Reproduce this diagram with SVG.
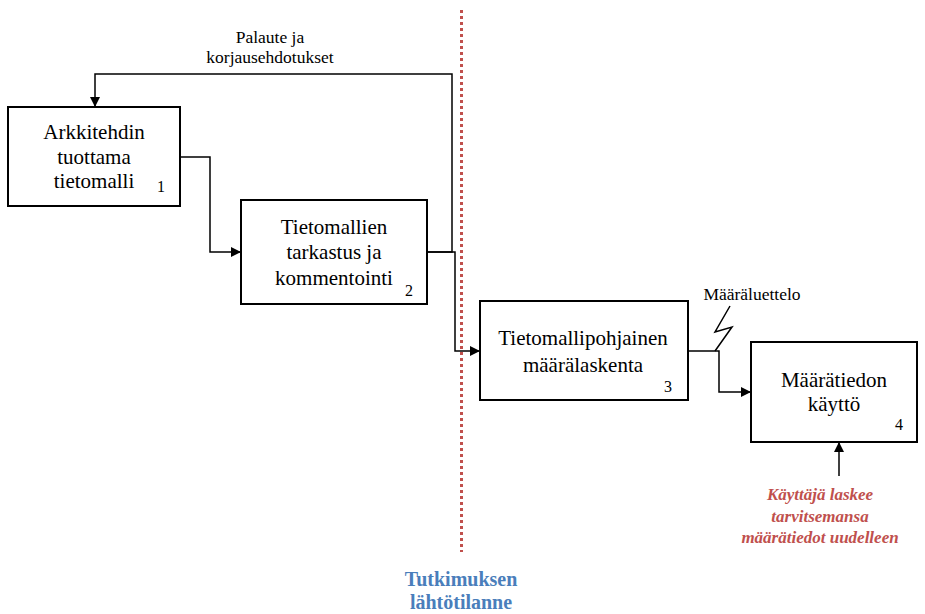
<svg xmlns="http://www.w3.org/2000/svg" width="925" height="614" viewBox="0 0 925 614">
  <style>
    .box { fill: #ffffff; stroke: #000000; stroke-width: 2; }
    .wire { fill: none; stroke: #000000; stroke-width: 1.5; }
    text { font-family: "Liberation Serif", "DejaVu Serif", serif; fill: #000000; text-anchor: middle; }
    .lbl { font-size: 21px; }
    .num { font-size: 16px; }
    .note { font-size: 17.5px; }
    .user { font-size: 17px; font-weight: bold; font-style: italic; fill: #c0504d; }
    .state { font-size: 20px; font-weight: bold; fill: #4a7ebb; }
  </style>
  <defs>
    <marker id="arrow" viewBox="0 0 10 10" refX="10" refY="5" markerWidth="10" markerHeight="10" markerUnits="userSpaceOnUse" orient="auto">
      <path d="M0,0 L10,5 L0,10 Z" fill="#000000"/>
    </marker>
  </defs>

  <!-- boundary of the starting situation -->
  <line x1="461.5" y1="10" x2="461.5" y2="552" stroke="#c0504d" stroke-width="3" stroke-dasharray="3 3"/>

  <g id="connectors">
    <!-- 1 -> 2 -->
    <path class="wire" d="M180,157 H210 V252 H241" marker-end="url(#arrow)"/>
    <!-- 2 -> 1 feedback -->
    <path class="wire" d="M427,252 H452 V74 H95 V107" marker-end="url(#arrow)"/>
    <!-- 2 -> 3 -->
    <path class="wire" d="M427,252 H455 V351 H480" marker-end="url(#arrow)"/>
    <!-- 3 -> 4 -->
    <path class="wire" d="M688,351 H719 V392 H751" marker-end="url(#arrow)"/>
    <!-- list output (lightning) -->
    <path class="wire" d="M715,351 L732,327 L715,332 L730,306"/>
    <!-- user input to 4 -->
    <path class="wire" d="M839,476 V442" marker-end="url(#arrow)"/>
  </g>

  <g id="edge-labels">
    <text class="note" x="270" y="43">Palaute ja</text>
    <text class="note" x="270" y="63">korjausehdotukset</text>
    <text class="note" x="752" y="300">Määräluettelo</text>
  </g>

  <g id="node1">
    <rect class="box" x="8" y="107" width="172" height="99"/>
    <text class="lbl" x="94" y="139">Arkkitehdin</text>
    <text class="lbl" x="94" y="164">tuottama</text>
    <text class="lbl" x="94" y="188">tietomalli</text>
    <text class="num" x="161" y="192">1</text>
  </g>

  <g id="node2">
    <rect class="box" x="241" y="200" width="186" height="104"/>
    <text class="lbl" x="334" y="234">Tietomallien</text>
    <text class="lbl" x="334" y="259">tarkastus ja</text>
    <text class="lbl" x="334" y="285">kommentointi</text>
    <text class="num" x="409" y="296">2</text>
  </g>

  <g id="node3">
    <rect class="box" x="480" y="301" width="208" height="99"/>
    <text class="lbl" x="583" y="345">Tietomallipohjainen</text>
    <text class="lbl" x="583" y="372">määrälaskenta</text>
    <text class="num" x="668" y="392">3</text>
  </g>

  <g id="node4">
    <rect class="box" x="751" y="342" width="166" height="100"/>
    <text class="lbl" x="834" y="387">Määrätiedon</text>
    <text class="lbl" x="834" y="411">käyttö</text>
    <text class="num" x="899" y="430">4</text>
  </g>

  <g id="user-note">
    <text class="user" x="820" y="500">Käyttäjä laskee</text>
    <text class="user" x="820" y="522">tarvitsemansa</text>
    <text class="user" x="820" y="543">määrätiedot uudelleen</text>
  </g>

  <g id="start-label">
    <text class="state" x="461" y="586">Tutkimuksen</text>
    <text class="state" x="461" y="609">lähtötilanne</text>
  </g>
</svg>
